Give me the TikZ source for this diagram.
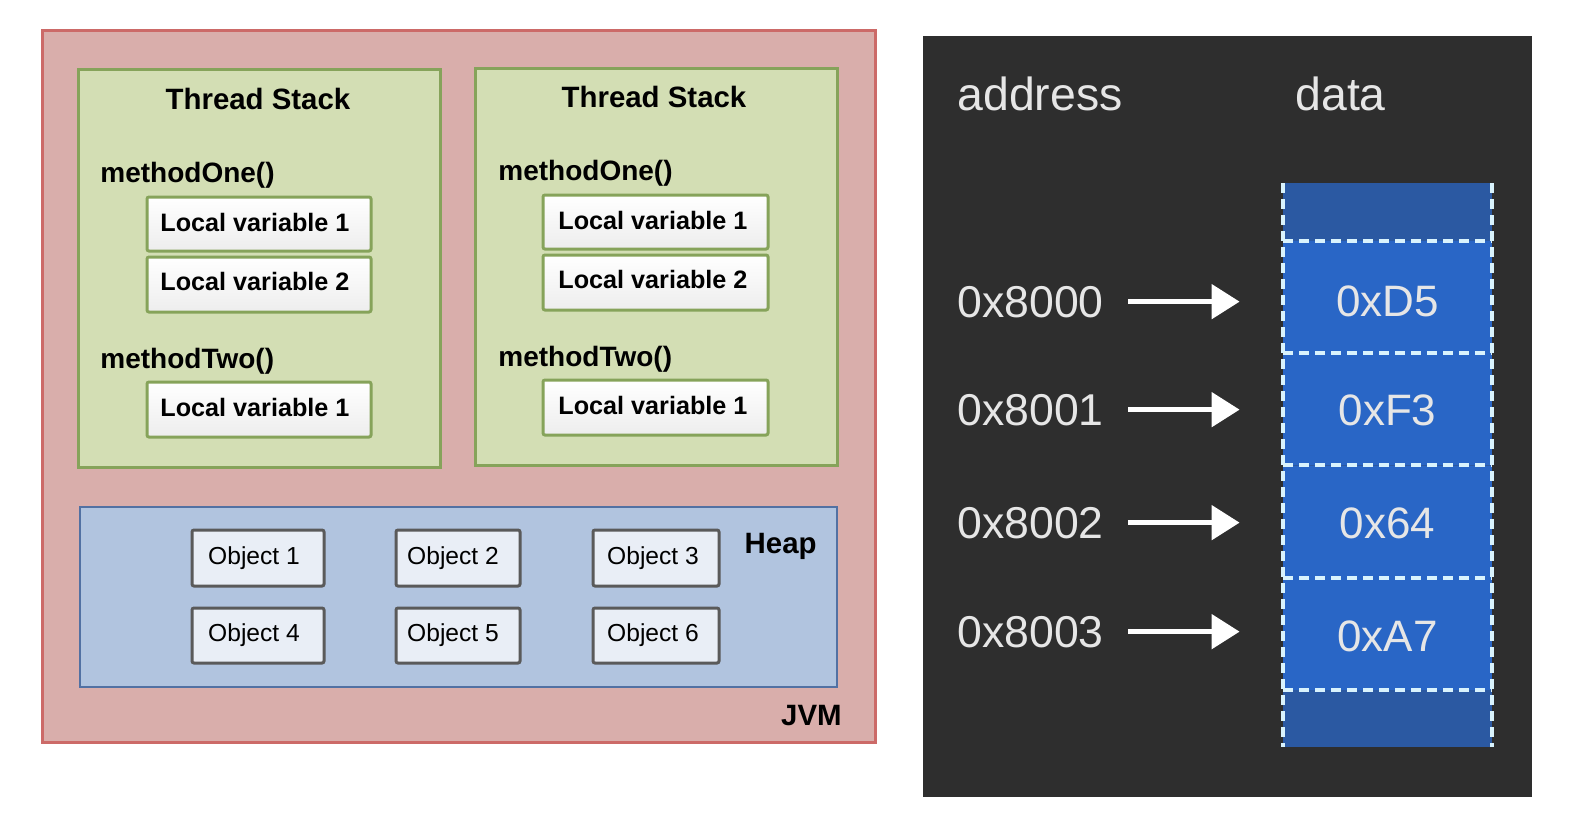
\documentclass[tikz,border=0pt]{standalone}
\usepackage{fontspec}
\setmainfont{Liberation Sans}
\usetikzlibrary{arrows.meta,shadows}
\definecolor{jvmfill}{HTML}{D9AEAB}
\definecolor{jvmdraw}{HTML}{CC6A68}
\definecolor{tsfill}{HTML}{D3DEB4}
\definecolor{tsdraw}{HTML}{86A35A}
\definecolor{heapfill}{HTML}{B1C4DF}
\definecolor{heapdraw}{HTML}{5271A3}
\definecolor{objfill}{HTML}{E9EEF6}
\definecolor{objdraw}{HTML}{5A5A5A}
\definecolor{panel}{HTML}{2E2E2E}
\definecolor{cellblue}{HTML}{2966C6}
\definecolor{edgeblue}{HTML}{2B59A2}
\definecolor{lighttext}{HTML}{E6E6E6}
\tikzset{
  jvmbox/.style={draw=jvmdraw,fill=jvmfill,line width=1.5pt},
  tsbox/.style={draw=tsdraw,fill=tsfill,line width=1.5pt},
  heapbox/.style={draw=heapdraw,fill=heapfill,line width=1.3pt},
  lvbox/.style={draw=tsdraw,line width=1.5pt,top color=white,bottom color=black!7,rounded corners=1pt},
  objbox/.style={draw=objdraw,line width=1.5pt,fill=objfill,rounded corners=1pt,drop shadow={shadow xshift=0.6pt,shadow yshift=-0.6pt,opacity=0.3}},
  title/.style={font=\fontsize{14.7pt}{16pt}\selectfont\bfseries,inner sep=0pt,anchor=base},
  meth/.style={font=\fontsize{14pt}{16pt}\selectfont\bfseries,inner sep=0pt,anchor=base west},
  lvtext/.style={font=\fontsize{12.6pt}{14pt}\selectfont\bfseries,inner sep=0pt,anchor=base west},
  objtext/.style={font=\fontsize{12.3pt}{14pt}\selectfont,inner sep=0pt,anchor=base},
  addr/.style={font=\fontsize{22.3pt}{24pt}\selectfont,text=lighttext,inner sep=0pt,anchor=base west},
  dat/.style={font=\fontsize{22pt}{24pt}\selectfont,text=lighttext,inner sep=0pt,anchor=base},
  hdr/.style={font=\fontsize{23.2pt}{24pt}\selectfont,text=lighttext,inner sep=0pt,anchor=base west},
  cell/.style={fill=cellblue,minimum width=104.5pt,minimum height=56pt,inner sep=0pt,draw=none},
  dashw/.style={draw=white!85!cyan,line width=1.6pt,dash pattern=on 5pt off 3pt},
  ptr/.style={draw=white,line width=2.5pt,-{Triangle[length=14pt,width=17pt]}},
}
\begin{document}
\begin{tikzpicture}[x=0.5pt,y=-0.5pt]
\useasboundingbox (0,0) rectangle (1572,824);
\fill[white] (0,0) rectangle (1572,824);
% JVM
\draw[jvmbox] (42,31) rectangle (875,742);
% Thread stacks
\draw[tsbox] (78,70) rectangle (440,467);
\draw[tsbox] (475,69) rectangle (837,465);
\node[title] (ts1) at (258,110) {Thread Stack};
\node[title] (ts2) at (654,108) {Thread Stack};
\node[meth] (m11) at (100,182) {methodOne()};
\node[meth] (m12) at (100,368) {methodTwo()};
\node[meth] (m21) at (498,180) {methodOne()};
\node[meth] (m22) at (498,366) {methodTwo()};
% local variable boxes left
\draw[lvbox] (147,197) rectangle (371,251);
\draw[lvbox] (147,257) rectangle (371,312);
\draw[lvbox] (147,382) rectangle (371,437);
\node[lvtext] (l11) at (160,231) {Local variable 1};
\node[lvtext] (l12) at (160,290) {Local variable 2};
\node[lvtext] (l13) at (160,416) {Local variable 1};
% right
\draw[lvbox] (543,195) rectangle (768,249);
\draw[lvbox] (543,255) rectangle (768,310);
\draw[lvbox] (543,380) rectangle (768,435);
\node[lvtext] (l21) at (558,229) {Local variable 1};
\node[lvtext] (l22) at (558,288) {Local variable 2};
\node[lvtext] (l23) at (558,414) {Local variable 1};
% Heap
\draw[heapbox] (80,507) rectangle (837,687);
\draw[objbox] (192,530) rectangle (324,586);
\draw[objbox] (396,530) rectangle (520,586);
\draw[objbox] (593,530) rectangle (719,586);
\draw[objbox] (192,608) rectangle (324,663);
\draw[objbox] (396,608) rectangle (520,663);
\draw[objbox] (593,608) rectangle (719,663);
\node[objtext] (o1) at (254,564) {Object 1};
\node[objtext] (o2) at (453,564) {Object 2};
\node[objtext] (o3) at (653,564) {Object 3};
\node[objtext] (o4) at (254,641) {Object 4};
\node[objtext] (o5) at (453,641) {Object 5};
\node[objtext] (o6) at (653,641) {Object 6};
\node[title,anchor=base east] (heap) at (817,553) {Heap};
\node[title,anchor=base east] (jvm) at (842,725) {JVM};
% Right panel
\fill[panel] (923,36) rectangle (1532,797);
\node[hdr] (haddr) at (957,111) {address};
\node[hdr] (hdata) at (1295,111) {data};
\fill[edgeblue] (1283,183) rectangle (1492,747);
\node[cell] (c0) at (1387.5,297) {};
\node[cell] (c1) at (1387.5,409) {};
\node[cell] (c2) at (1387.5,521.5) {};
\node[cell] (c3) at (1387.5,634) {};
\draw[dashw] (1283,183) -- (1283,747);
\draw[dashw] (1492,183) -- (1492,747);
\foreach \yy in {241,353,465,578,690}{\draw[dashw] (1283,\yy) -- (1492,\yy);}
\node[dat] (d0) at (c0.center) [yshift=-9.5pt] {0xD5};
\node[dat] (d1) at (c1.center) [yshift=-8pt] {0xF3};
\node[dat] (d2) at (c2.center) [yshift=-8.5pt] {0x64};
\node[dat] (d3) at (c3.center) [yshift=-8.5pt] {0xA7};
\node[addr] (a0) at (957,317) {0x8000};
\node[addr] (a1) at (957,425) {0x8001};
\node[addr] (a2) at (957,538) {0x8002};
\node[addr] (a3) at (957,647) {0x8003};
\foreach \i in {0,1,2,3}{
  \draw[ptr,shorten <=12pt,shorten >=21.5pt] (a\i.east) -- (a\i.east -| c\i.west);
}
\end{tikzpicture}
\end{document}
